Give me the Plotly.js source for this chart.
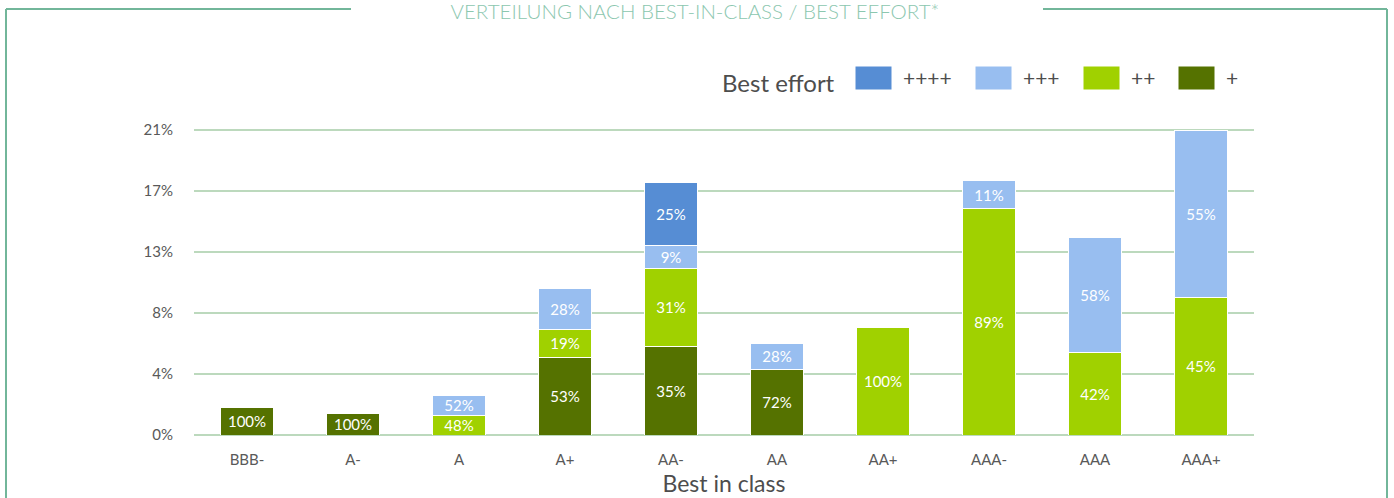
<!DOCTYPE html>
<html>
<head>
<meta charset="utf-8">
<script src="https://cdn.plot.ly/plotly-3.0.1.min.js"></script>
<style>
  html, body { margin: 0; padding: 0; background: #ffffff; }
  #chart { width: 1394px; height: 498px; }
</style>
</head>
<body>
<div id="chart"></div>
<script>
// Best-in-class rating buckets
const categories = ['BBB-', 'A-', 'A', 'A+', 'AA-', 'AA', 'AA+', 'AAA-', 'AAA', 'AAA+'];

// total bar height (share of portfolio, %)
const totals = [1.9, 1.45, 2.75, 10.1, 17.4, 6.3, 7.4, 17.5, 13.6, 21.0];

// best effort split inside each bar (% of the bar)
const sharePlus1 = [100, 100, null, 53, 35, 72, null, null, null, null];
const sharePlus2 = [null, null, 48, 19, 31, null, 100, 89, 42, 45];
const sharePlus3 = [null, null, 52, 28, 9, 28, null, 11, 58, 55];
const sharePlus4 = [null, null, null, null, 25, null, null, null, null, null];

const yTickVals = [0, 4.2, 8.4, 12.6, 16.8, 21];
const yTickText = ['0%', '4%', '8%', '13%', '17%', '21%'];

const seriesNames = ['+', '++', '+++', '++++'];
const seriesColors = ['#557200', '#a0d100', '#98bef0', '#568dd4'];
const seriesShares = [sharePlus1, sharePlus2, sharePlus3, sharePlus4];

const FONT = 'Lato, "Open Sans", sans-serif';
const frameColor = '#72b69a';

// plot area in pixels (used for the decorative frame + legend)
const L = 194, R = 1254, T = 129, B = 435;
const px = x => (x - L) / (R - L);
const py = y => (B - y) / (B - T);

const traces = seriesShares.map((shares, k) => ({
    type: 'bar',
    name: seriesNames[k],
    x: categories,
    y: shares.map((s, i) => s == null ? null : totals[i] * s / 100),
    text: shares.map(s => s == null ? '' : s + '%'),
    textposition: 'inside',
    insidetextanchor: 'middle',
    textangle: 0,
    constraintext: 'none',
    insidetextfont: { family: FONT, size: 15, color: '#ffffff' },
    marker: { color: seriesColors[k], line: { color: '#ffffff', width: 1 } },
    hoverinfo: 'skip',
    showlegend: false
}));

// frame around the chart, broken by the title
const shapes = [
    { x0: 6, y0: 9, x1: 351, y1: 9 },
    { x0: 1043, y0: 9, x1: 1387, y1: 9 },
    { x0: 6, y0: 9, x1: 6, y1: 520 },
    { x0: 1387, y0: 9, x1: 1387, y1: 520 }
].map(s => ({
    type: 'line', xref: 'paper', yref: 'paper',
    x0: px(s.x0), x1: px(s.x1), y0: py(s.y0), y1: py(s.y1),
    line: { color: frameColor, width: 2 }
}));

// custom legend (wide swatches)
const legendOrder = [3, 2, 1, 0];
const swatchX = [855, 975, 1083, 1178];
const annotations = [{
    xref: 'paper', yref: 'paper', x: px(837), y: py(82),
    xanchor: 'right', yanchor: 'middle', showarrow: false,
    text: 'Best effort', font: { family: FONT, size: 24, color: '#4d4d4d' }
}];
legendOrder.forEach((k, j) => {
    shapes.push({
        type: 'rect', xref: 'paper', yref: 'paper',
        x0: px(swatchX[j]), x1: px(swatchX[j] + 37), y0: py(90), y1: py(66),
        fillcolor: seriesColors[k], line: { color: '#ffffff', width: 1 }
    });
    annotations.push({
        xref: 'paper', yref: 'paper', x: px(swatchX[j] + 46), y: py(78),
        xanchor: 'left', yanchor: 'middle', showarrow: false,
        text: seriesNames[k], font: { family: FONT, size: 21, color: '#4d4d4d' }
    });
});

const layout = {
    barmode: 'stack',
    bargap: 0.5,
    width: 1394,
    height: 498,
    margin: { l: L, r: 1394 - R, t: T, b: 498 - B },
    paper_bgcolor: '#ffffff',
    plot_bgcolor: '#ffffff',
    font: { family: FONT, color: '#595959' },
    title: {
        text: 'VERTEILUNG NACH BEST-IN-CLASS / BEST EFFORT*',
        x: 0.4985, xanchor: 'center',
        yref: 'container', y: 1 - 12 / 498, yanchor: 'middle',
        font: { family: '"Lato Light", ' + FONT, size: 20.5, weight: 300, color: '#8cc7af' }
    },
    xaxis: {
        type: 'category',
        showgrid: false,
        showline: false,
        ticks: '',
        ticklabelstandoff: 14,
        tickfont: { family: FONT, size: 15, color: '#595959' },
        title: { text: 'Best in class', standoff: 8, font: { family: FONT, size: 23, color: '#4d4d4d' } }
    },
    yaxis: {
        range: [0, 21.07],
        tickvals: yTickVals,
        ticktext: yTickText,
        showgrid: true,
        gridcolor: '#bcd9bd',
        gridwidth: 2.5,
        zeroline: true,
        zerolinecolor: '#bcd9bd',
        zerolinewidth: 2.5,
        showline: false,
        ticks: '',
        ticklabelstandoff: 20,
        tickfont: { family: FONT, size: 15, color: '#595959' }
    },
    shapes: shapes,
    annotations: annotations
};

Plotly.newPlot('chart', traces, layout, { displayModeBar: false, staticPlot: true });
</script>
</body>
</html>
